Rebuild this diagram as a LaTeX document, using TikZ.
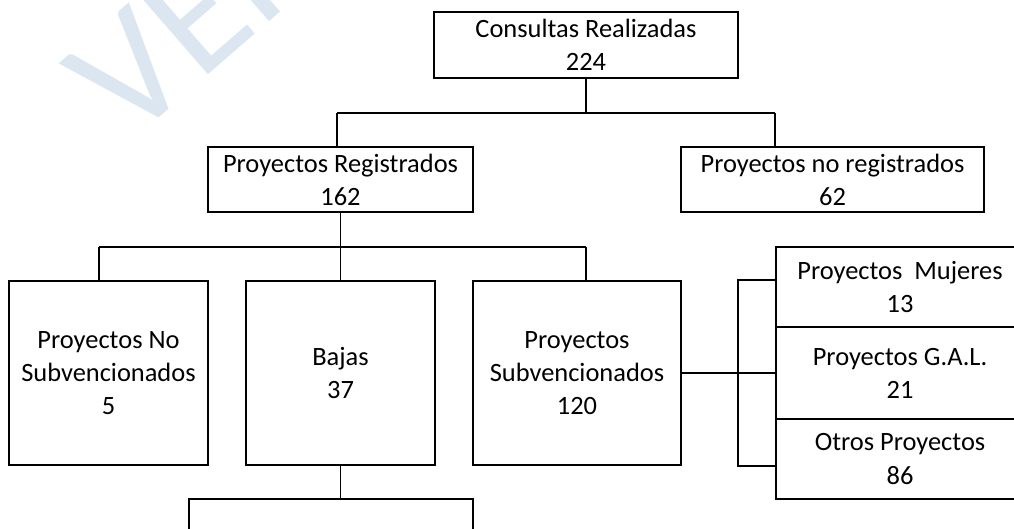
\documentclass[tikz,border=0pt]{standalone}
\usepackage{fontspec}
\setmainfont{Carlito}
\usepackage{xcolor}
\definecolor{marcaagua}{RGB}{220,230,241}

\begin{document}
\begin{tikzpicture}[caja/.style={draw, line width=1.4pt, inner sep=0pt, align=center},
                    linea/.style={line width=1.4pt},
                    font=\fontsize{18.8}{23.5}\selectfont]
    \useasboundingbox (0,0) rectangle (25.35,-13.225);
    \clip (0,0) rectangle (25.35,-13.225);
    % marca de agua
    \node (marca) [anchor=base west, inner sep=0pt, rotate=41, text=marcaagua,
                   font=\fontsize{118}{118}\selectfont] at (3.2,-3.62) {VER};
    % cajas
    \node (cons) [caja, minimum width=7.6cm, minimum height=1.65cm] at (14.65,-1.125) {Consultas Realizadas\\224};
    \node (reg) [caja, minimum width=6.625cm, minimum height=1.625cm] at (8.5125,-4.4875) {Proyectos Registrados\\162};
    \node (noreg) [caja, minimum width=7.575cm, minimum height=1.625cm] at (20.8125,-4.4875) {Proyectos no registrados\\62};
    \node (nosub) [caja, minimum width=4.975cm, minimum height=4.6cm] at (2.7125,-9.325) {Proyectos No\\Subvencionados\\5};
    \node (bajas) [caja, minimum width=4.725cm, minimum height=4.6cm] at (8.5125,-9.325) {Bajas\\37};
    \node (subv) [caja, minimum width=5.2cm, minimum height=4.6cm] at (14.425,-9.325) {Proyectos\\Subvencionados\\120};
    \node (mujeres) [caja, minimum width=6.2cm, minimum height=2cm] at (22.5,-7.175) {Proyectos~~Mujeres\\13};
    \node (gal) [caja, minimum width=6.2cm, minimum height=2.3cm] at (22.5,-9.325) {Proyectos G.A.L.\\21};
    \node (otros) [caja, minimum width=6.2cm, minimum height=2cm] at (22.5,-11.475) {Otros Proyectos\\86};
    \node (bajas2) [caja, minimum width=7.1cm, minimum height=1.5cm] at (8.275,-13.225) {};
    % conectores
    \coordinate (b1l) at (8.425,-2.825);
    \coordinate (b1r) at (19.375,-2.825);
    \coordinate (b2l) at (2.475,-6.175);
    \coordinate (b2r) at (14.65,-6.175);
    \coordinate (brk) at (18.45,-9.325);
    \draw [linea] (cons.south) -- (cons.south |- b1l);
    \draw [linea] (b1l) -- (b1r);
    \draw [linea] (b1l) -- (b1l |- reg.north);
    \draw [linea] (b1r) -- (b1r |- noreg.north);
    \draw [linea] (reg.south) -- (reg.south |- b2l);
    \draw [linea] (b2l) -- (b2r);
    \draw [linea] (b2l) -- (b2l |- nosub.north);
    \draw [linea] (reg.south |- b2l) -- (bajas.north);
    \draw [linea] (b2r) -- (b2r |- subv.north);
    \draw [linea] (subv.east) -- (gal.west);
    \draw [linea] (subv.north -| mujeres.west) -- (subv.north -| brk) -- (subv.south -| brk) -- (subv.south -| mujeres.west);
    \draw [linea] (bajas.south) -- (bajas.south |- bajas2.north);
\end{tikzpicture}
\end{document}
